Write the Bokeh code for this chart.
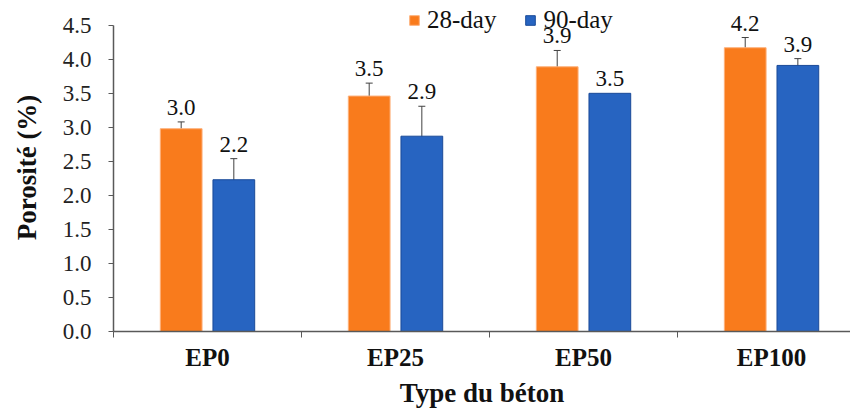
import numpy as np
from bokeh.plotting import figure
from bokeh.models import (ColumnDataSource, Range1d, FixedTicker, Whisker, TeeHead,
                          NumeralTickFormatter, Legend, LegendItem)
from bokeh.core.properties import value
from bokeh.embed import file_html
from bokeh.resources import INLINE

categories = ["EP0", "EP25", "EP50", "EP100"]
day28 = [2.98, 3.46, 3.89, 4.17]
day90 = [2.23, 2.87, 3.50, 3.91]
err28 = [0.10, 0.19, 0.24, 0.15]
err90 = [0.31, 0.44, 0.0, 0.10]
labels28 = ["3.0", "3.5", "3.9", "4.2"]
labels90 = ["2.2", "2.9", "3.5", "3.9"]
y_ticks = [0.0, 0.5, 1.0, 1.5, 2.0, 2.5, 3.0, 3.5, 4.0, 4.5]

FONT_B = "Liberation Serif"   # bold texts
FONT_R = "Tinos"              # regular texts (Times-metric serif)
ORANGE = "#F97B1C"
ORANGE_EDGE = "#FDB07A"
BLUE = "#2764C1"
BLUE_EDGE = "#1A4A98"
AXIS = "#595959"

n = len(categories)
centers = np.arange(n) + 0.5
off = 0.14
bw = 0.222

src28 = ColumnDataSource(dict(x=centers - off, top=day28, err=err28,
                              lo=np.array(day28) - np.array(err28),
                              hi=np.array(day28) + np.array(err28), lab=labels28))
src90 = ColumnDataSource(dict(x=centers + off, top=day90, err=err90,
                              lo=np.array(day90) - np.array(err90),
                              hi=np.array(day90) + np.array(err90), lab=labels90))

p = figure(width=850, height=410, output_backend="svg", toolbar_location=None,
           x_range=Range1d(0, 3.92), y_range=Range1d(0, 4.82),
           min_border_left=113, min_border_right=0, min_border_top=3, min_border_bottom=78)
p.outline_line_color = None
p.grid.visible = False
p.background_fill_color = "white"

r28 = p.vbar(x="x", top="top", width=bw, source=src28, fill_color=ORANGE,
             line_color=ORANGE_EDGE, line_width=1)
r90 = p.vbar(x="x", top="top", width=bw, source=src90, fill_color=BLUE,
             line_color=BLUE_EDGE, line_width=1)

for src, vals, errs in ((src28, day28, err28), (src90, day90, err90)):
    keep = [i for i, e in enumerate(errs) if e > 0]
    ws = ColumnDataSource(dict(x=[src.data["x"][i] for i in keep],
                               lo=[src.data["lo"][i] for i in keep],
                               hi=[src.data["hi"][i] for i in keep]))
    w = Whisker(base="x", lower="lo", upper="hi", source=ws, dimension="height",
                line_color="#404040", line_width=1,
                upper_head=TeeHead(size=7, line_color="#404040", line_width=1),
                lower_head=TeeHead(size=7, line_color="#404040", line_width=1))
    p.add_layout(w)

for src in (src28, src90):
    p.text(x="x", y="hi", text="lab", source=src, text_align="center",
           text_baseline="bottom", y_offset=-7, text_font=value(FONT_R),
           text_font_size="23px", text_color="#111111")

# y axis
ya = p.yaxis[0]
ya.ticker = FixedTicker(ticks=y_ticks)
ya.formatter = NumeralTickFormatter(format="0.0")
ya.bounds = (0, 4.5)
ya.axis_line_color = AXIS
ya.axis_line_width = 1.5
ya.major_tick_line_color = AXIS
ya.major_tick_out = 5
ya.major_tick_in = 0
ya.minor_tick_line_color = None
ya.major_label_text_font = "Tinos, serif"
ya.major_label_text_font_size = "23px"
ya.major_label_text_color = "#222222"
ya.major_label_standoff = 17
ya.axis_label = "Porosité (%)"
ya.axis_label_text_font = FONT_B
ya.axis_label_text_font_size = "27px"
ya.axis_label_text_font_style = "bold"
ya.axis_label_text_color = "#111111"
ya.axis_label_standoff = 18

# x axis
xa = p.xaxis[0]
xa.ticker = FixedTicker(ticks=list(centers), minor_ticks=list(range(n + 1)))
xa.major_label_overrides = {float(c): cat for c, cat in zip(centers, categories)}
xa.axis_line_color = AXIS
xa.axis_line_width = 1.5
xa.major_tick_line_color = None
xa.major_tick_out = 6
xa.minor_tick_line_color = AXIS
xa.minor_tick_out = 6
xa.minor_tick_in = 0
xa.major_label_text_font = FONT_B
xa.major_label_text_font_size = "25px"
xa.major_label_text_font_style = "bold"
xa.major_label_text_color = "#111111"
xa.major_label_standoff = 6
xa.axis_label = "Type du béton"
xa.axis_label_text_font = FONT_B
xa.axis_label_text_font_size = "27px"
xa.axis_label_text_font_style = "bold"
xa.axis_label_text_color = "#111111"
xa.axis_label_standoff = 4

legend = Legend(items=[LegendItem(label="28-day", renderers=[r28]),
                       LegendItem(label="90-day", renderers=[r90])],
                orientation="horizontal", location=(295, 297),
                glyph_width=12, glyph_height=12, label_standoff=7, spacing=28,
                padding=0, margin=0, border_line_color=None,
                background_fill_alpha=0,
                label_text_font=FONT_R, label_text_font_size="25px",
                label_text_color="#111111")
p.add_layout(legend)

open("out.html", "w").write(file_html(p, INLINE))
